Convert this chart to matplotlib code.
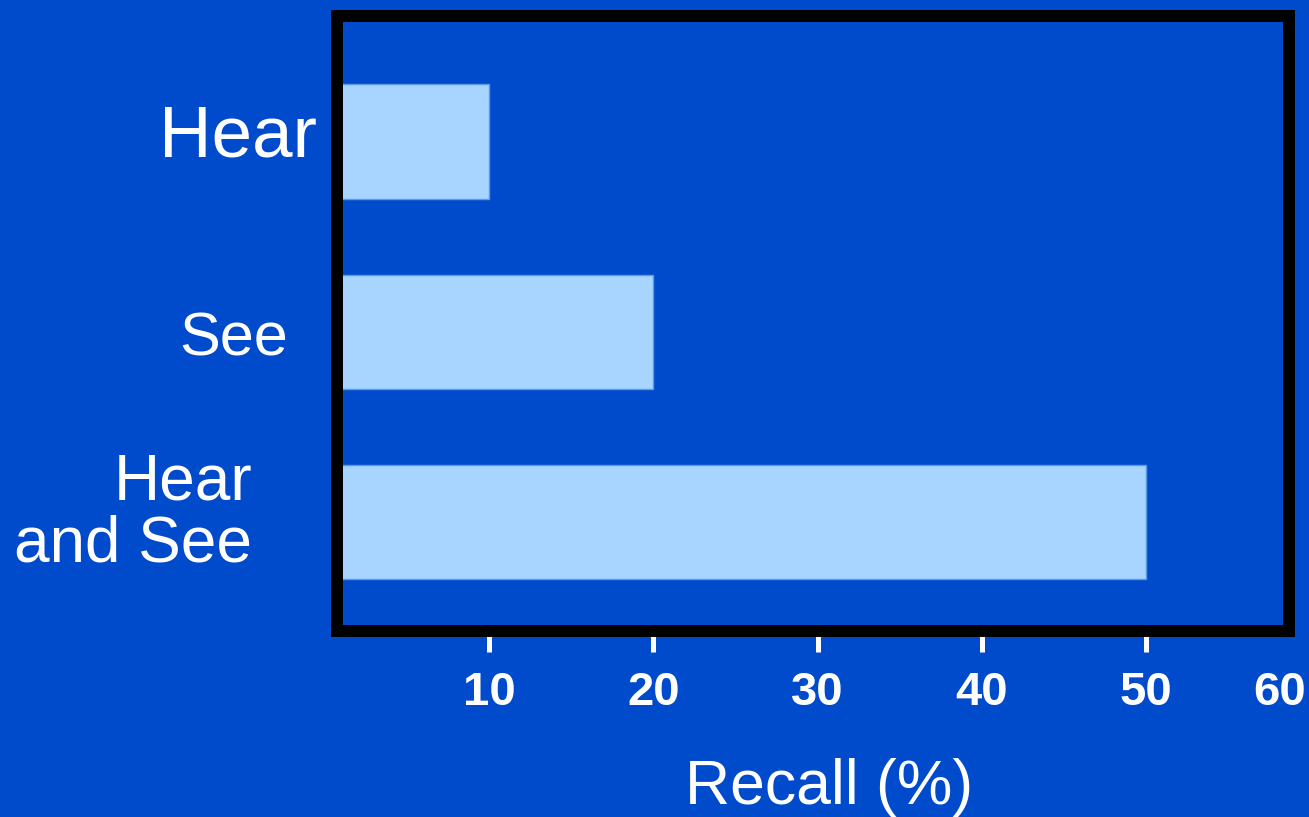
import matplotlib.pyplot as plt

# 데이터
labels = ['Hear', 'See', 'Hear\nand See']
recall = [10, 20, 50]
xticks = [10, 20, 30, 40, 50]

# 라벨 스타일 (오른쪽 끝 위치, 글자 크기)
label_x = [-0.021, -0.0515, -0.0893]
label_y = [0.079, 1.128, 2.21]
label_size = [52.5, 44, 46]

bg = '#004BCC'
bar_color = '#A8D5FF'

plt.rcParams['font.family'] = ['Liberation Sans', 'DejaVu Sans']

fig = plt.figure(figsize=(13.09, 8.17), dpi=100, facecolor=bg)
ax = fig.add_axes([0.2575, 0.2277, 0.7273, 0.7527], facecolor=bg)

ax.barh(range(len(labels)), recall, height=0.6, color=bar_color,
        edgecolor='#5A9BE8', linewidth=1, zorder=1)

ax.set_xlim(0.75, 58.7)
ax.set_ylim(2.575, -0.66)

for s in ax.spines.values():
    s.set_linewidth(8.64)
    s.set_color('black')

ax.set_yticks([])
ax.set_xticks(xticks)
ax.set_xticklabels([str(t) for t in xticks], fontsize=34, fontweight='bold', color='white')
ax.tick_params(axis='x', length=15, width=3.6, color='white', pad=14)

# 마지막 눈금 라벨 (눈금선 없음)
ax.text(58.1, -0.0655, '60', transform=ax.get_xaxis_transform(), fontsize=34,
        fontweight='bold', color='white', ha='center', va='top')

# 항목 라벨
ytr = ax.get_yaxis_transform()
for name, x, y, size in zip(labels, label_x, label_y, label_size):
    ax.text(x, y, name, transform=ytr, ha='right', va='baseline',
            multialignment='right', fontsize=size, color='white',
            linespacing=1.05, clip_on=False)

fig.text(0.6333, 0.0159, 'Recall (%)', ha='center', va='baseline',
         fontsize=45, color='white')

fig.savefig('out.png', dpi=100, facecolor=bg)
